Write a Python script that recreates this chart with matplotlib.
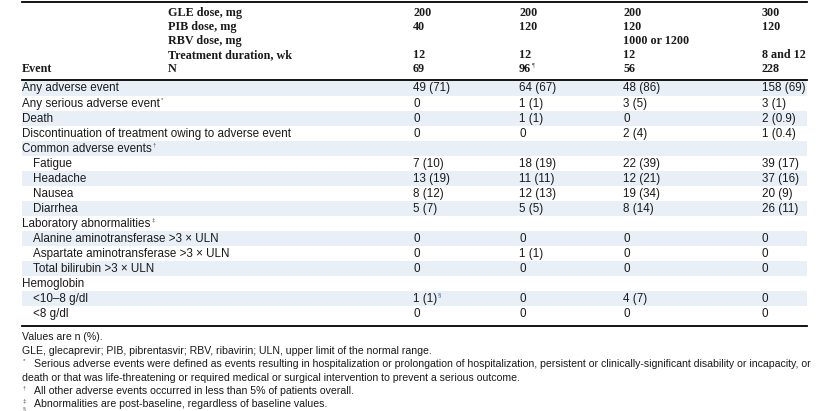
import matplotlib
matplotlib.use('Agg')
import matplotlib.pyplot as plt
from matplotlib import font_manager

# header block (column parameters)
header_labels = ['GLE dose, mg', 'PIB dose, mg', 'RBV dose, mg', 'Treatment duration, wk', 'N']
gle_dose = ['200', '200', '200', '300']
pib_dose = ['40', '120', '120', '120']
rbv_dose = ['', '', '1000 or 1200', '']
duration = ['12', '12', '12', '8 and 12']
n_pat = ['69', '96', '56', '228']
n_marks = ['', '¶', '', '']

# body rows: label, indent flag, footnote mark, values per arm
row_labels = ['Any adverse event', 'Any serious adverse event', 'Death',
              'Discontinuation of treatment owing to adverse event',
              'Common adverse events', 'Fatigue', 'Headache', 'Nausea', 'Diarrhea',
              'Laboratory abnormalities', 'Alanine aminotransferase >3 \u00d7 ULN',
              'Aspartate aminotransferase >3 \u00d7 ULN', 'Total bilirubin >3 \u00d7 ULN',
              'Hemoglobin', '<10\u20138 g/dl', '<8 g/dl']
row_indent = [0, 0, 0, 0, 0, 1, 1, 1, 1, 0, 1, 1, 1, 0, 1, 1]
row_marks = ['', '*', '', '', '\u2020', '', '', '', '', '\u2021', '', '', '', '', '', '']
arm1 = ['49 (71)', '0', '0', '0', '', '7 (10)', '13 (19)', '8 (12)', '5 (7)', '',
        '0', '0', '0', '', '1 (1)', '0']
arm2 = ['64 (67)', '1 (1)', '1 (1)', '0', '', '18 (19)', '11 (11)', '12 (13)', '5 (5)', '',
        '0', '1 (1)', '0', '', '0', '0']
arm3 = ['48 (86)', '3 (5)', '0', '2 (4)', '', '22 (39)', '12 (21)', '19 (34)', '8 (14)', '',
        '0', '0', '0', '', '4 (7)', '0']
arm4 = ['158 (69)', '3 (1)', '2 (0.9)', '1 (0.4)', '', '39 (17)', '37 (16)', '20 (9)', '26 (11)', '',
        '0', '0', '0', '', '0', '0']
arm1_marks = [''] * 14 + ['\u00a7', '']

footnotes = [
    ('', 'Values are n (%).'),
    ('', 'GLE, glecaprevir; PIB, pibrentasvir; RBV, ribavirin; ULN, upper limit of the normal range.'),
    ('*', 'Serious adverse events were defined as events resulting in hospitalization or prolongation of hospitalization, persistent or clinically-significant disability or incapacity, or'),
    ('', 'death or that was life-threatening or required medical or surgical intervention to prevent a serious outcome.'),
    ('\u2020', 'All other adverse events occurred in less than 5% of patients overall.'),
    ('\u2021', 'Abnormalities are post-baseline, regardless of baseline values.'),
]
last_mark = '\u00a7'

available = {f.name for f in font_manager.fontManager.ttflist}
body_font = 'Liberation Sans' if 'Liberation Sans' in available else 'DejaVu Sans'
head_font = 'Liberation Serif' if 'Liberation Serif' in available else 'DejaVu Serif'
note_font = 'Liberation Sans Narrow' if 'Liberation Sans Narrow' in available else body_font

W, H = 821, 411
fig = plt.figure(figsize=(W / 100, H / 100), dpi=100)
ax = fig.add_axes([0, 0, 1, 1])
ax.set_xlim(0, W)
ax.set_ylim(H, 0)
ax.axis('off')

x_left, x_right = 22, 807
x_head = 168
col_x = [413, 519, 623, 762]
txt = '#1a1a1a'
shade = '#e9eff7'
fs_head, fs_body = 8.7, 8.4

# rules
ax.plot([x_left, x_right], [2.5, 2.5], color='black', lw=1.3)
ax.plot([x_left, x_right], [80.5, 80.5], color='black', lw=1.3)
ax.plot([x_left, x_right], [326, 326], color='black', lw=1.3)

fig.canvas.draw()
renderer = fig.canvas.get_renderer()


def sup(t, mark, size, color=txt, family=body_font, weight='normal'):
    # small superscript mark just after text t
    if not mark:
        return
    bb = t.get_window_extent(renderer)
    x0 = ax.transData.inverted().transform((bb.x1, bb.y1))[0]
    y = t.get_position()[1]
    ax.text(x0 + 1, y - 4, mark, fontsize=size, color=color, family=family,
            weight=weight, va='center', ha='left')


def width_px(t):
    return t.get_window_extent(renderer).width


# header
head_y = [13, 27, 41, 55, 69]
head_vals = [gle_dose, pib_dose, rbv_dose, duration, n_pat]
for y, lab, vals in zip(head_y, header_labels, head_vals):
    ax.text(x_head, y, lab, fontsize=fs_head, weight='bold', family=head_font, color=txt, va='center')
    for j, v in enumerate(vals):
        t = ax.text(col_x[j], y, v, fontsize=fs_head, weight='bold', family=head_font, color=txt, va='center')
        if y == head_y[-1]:
            sup(t, n_marks[j], 4.5, color='#505050', family=head_font)
ax.text(x_left, 69, 'Event', fontsize=fs_head, weight='bold', family=head_font, color=txt, va='center')

# body
row_h = 15
y0 = 88.5
arms = [arm1, arm2, arm3, arm4]
for i, lab in enumerate(row_labels):
    y = y0 + i * row_h
    if i % 2 == 0:
        ax.add_patch(plt.Rectangle((x_left, y - row_h / 2), x_right - x_left, row_h,
                                   facecolor=shade, edgecolor='none', zorder=0))
    t = ax.text(x_left + 11 * row_indent[i], y, lab, fontsize=fs_body, family=body_font,
                color=txt, va='center')
    sup(t, row_marks[i], 4.5, color='#505050')
    for j, arm in enumerate(arms):
        t = ax.text(col_x[j], y, arm[i], fontsize=fs_body, family=body_font, color=txt, va='center')
        if j == 0:
            sup(t, arm1_marks[i], 4.5, color='#3060a0')

# footnotes: size chosen so the longest line spans to the right rule
probe = ax.text(0, 0, footnotes[2][1], fontsize=10, family=note_font)
fs_note = 10 * (x_right - (x_left + 12)) / width_px(probe)
probe.remove()
note_y = [337, 351, 364, 378, 391, 404]
for y, (mark, note) in zip(note_y, footnotes):
    if mark:
        ax.text(x_left + 1, y - 3, mark, fontsize=4.5, family=body_font, color='#505050', va='center')
        ax.text(x_left + 12, y, note, fontsize=fs_note, family=note_font, color=txt, va='center')
    else:
        ax.text(x_left, y, note, fontsize=fs_note, family=note_font, color=txt, va='center')
ax.text(x_left + 1, 409, last_mark, fontsize=4, family=body_font, color='#505050', va='center')

fig.savefig('out.png', dpi=100)
